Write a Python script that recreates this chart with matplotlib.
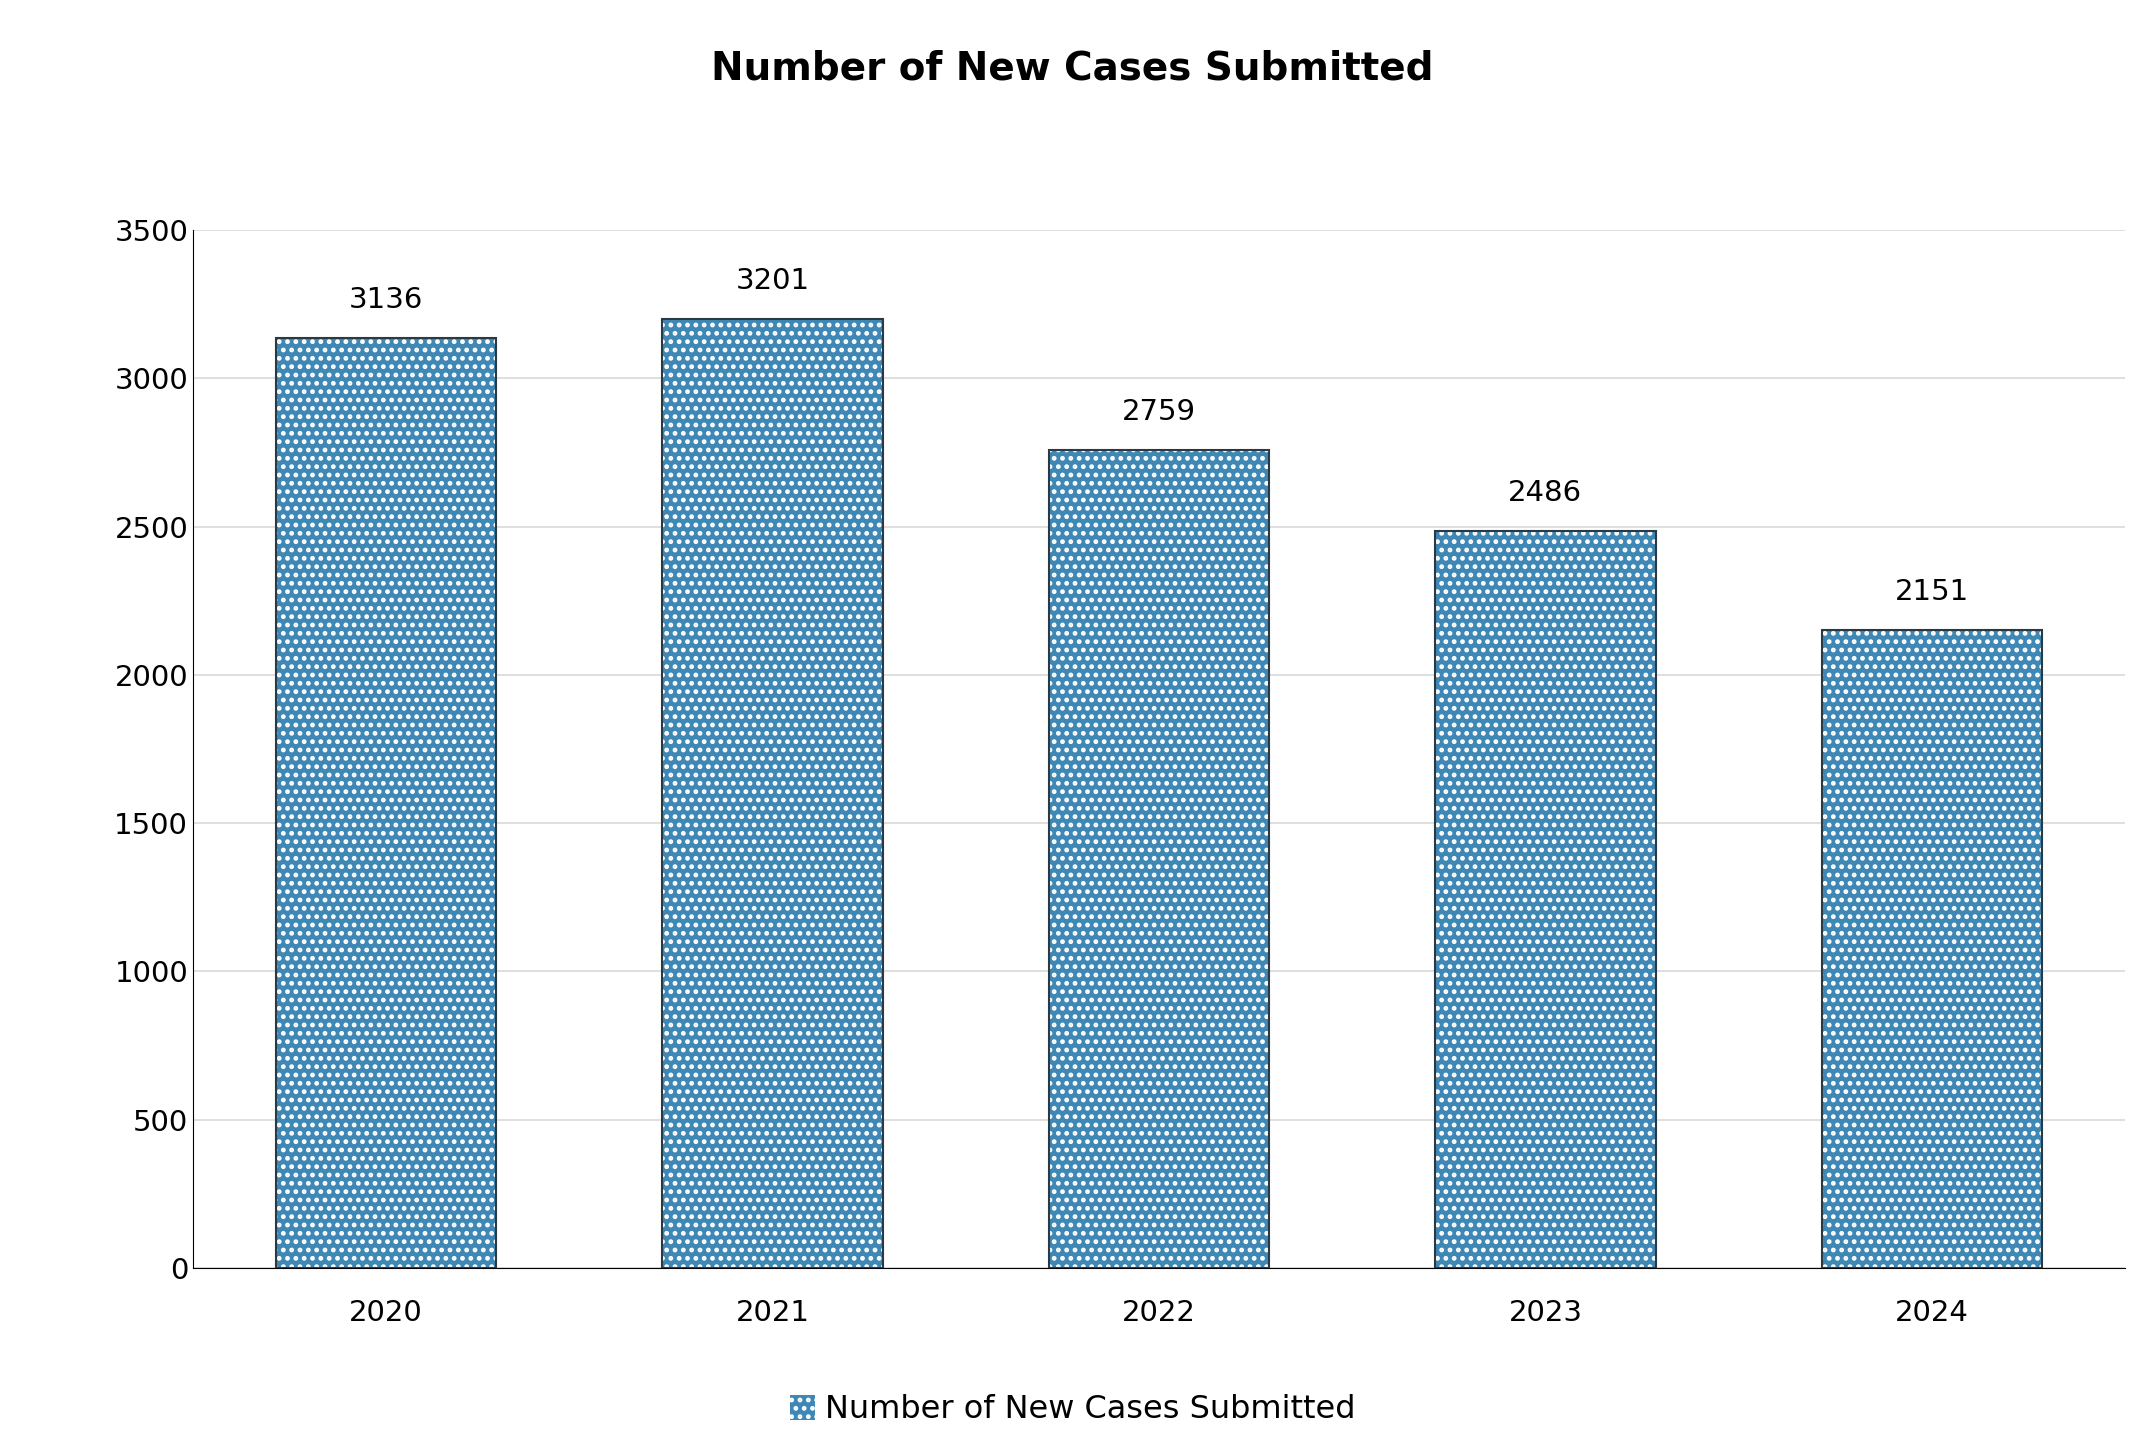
import matplotlib
matplotlib.use("Agg")
import matplotlib.pyplot as plt

years = ["2020", "2021", "2022", "2023", "2024"]
values = [3136, 3201, 2759, 2486, 2151]
series_name = "Number of New Cases Submitted"

plt.rcParams['hatch.linewidth'] = 2.2
fig = plt.figure(figsize=(21.45, 14.52), dpi=100)
ax = fig.add_axes([193/2145, 1-1268/1452, (2125-193)/2145, (1268-230)/1452])
x = range(len(years))
bars = ax.bar(x, values, width=0.57, color="#3f88b6", hatch="..", edgecolor="white", linewidth=0, zorder=3, label=series_name)
ax.bar(x, values, width=0.57, fill=False, edgecolor="#2a3a44", linewidth=1.5, zorder=4)
for xi, v in zip(x, values):
    ax.text(xi, v + 80, str(v), ha="center", va="bottom", fontsize=21)
ax.set_ylim(0, 3500)
ax.set_xlim(-0.5, 4.5)
ax.set_yticks(range(0, 3501, 500))
ax.set_xticks(list(x))
ax.set_xticklabels(years)
ax.tick_params(axis="both", labelsize=21, length=0)
ax.tick_params(axis="x", pad=22)
ax.grid(axis="y", color="#d9d9d9", linewidth=1.2, zorder=0)
for s in ["top", "right"]:
    ax.spines[s].set_visible(False)
ax.spines["left"].set_color("black")
ax.spines["bottom"].set_color("black")
fig.text(0.5, 1-69/1452, "Number of New Cases Submitted", ha="center", va="center", fontsize=28, fontweight="bold")
fig.legend(handles=[bars], labels=[series_name], loc="center", bbox_to_anchor=(0.5, 1-1410/1452), frameon=False, fontsize=23, handlelength=0.8, handleheight=0.8, handletextpad=0.3)
fig.savefig("out.png", dpi=100)
